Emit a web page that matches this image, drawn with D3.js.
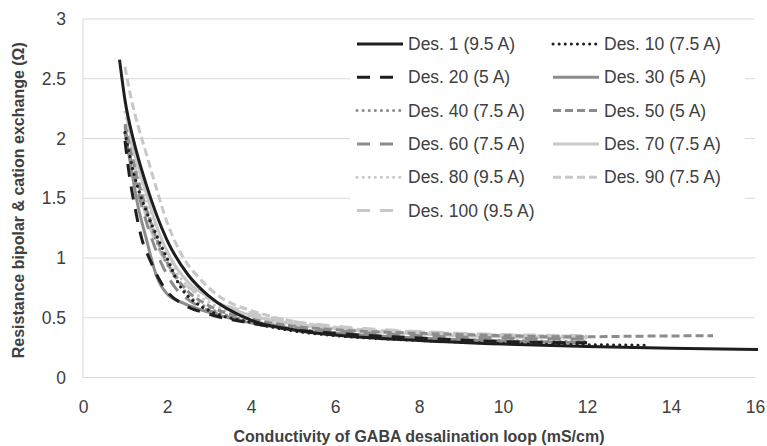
<!DOCTYPE html>
<html>
<head>
<meta charset="utf-8">
<script src="https://cdn.jsdelivr.net/npm/d3@7"></script>
<style>
  html, body { margin: 0; padding: 0; background: #fff; }
  svg { display: block; }
  text { font-family: "Liberation Sans", Arial, sans-serif; fill: #404040; }
</style>
</head>
<body>
<svg id="chart" width="767" height="446"></svg>
<script>
// ---- data ----
const seriesNames = ["Des. 1 (9.5 A)", "Des. 10 (7.5 A)", "Des. 20 (5 A)", "Des. 30 (5 A)",
  "Des. 40 (7.5 A)", "Des. 50 (5 A)", "Des. 60 (7.5 A)", "Des. 70 (7.5 A)",
  "Des. 80 (9.5 A)", "Des. 90 (7.5 A)", "Des. 100 (9.5 A)"];

const des1X  = [0.87, 1.0, 1.2, 1.5, 2.0, 2.5, 3.0, 4.0, 5.0, 6.0, 8.0, 10.0, 12.0, 14.0, 16.1];
const des1Y  = [2.66, 2.32, 1.99, 1.62, 1.15, 0.86, 0.68, 0.48, 0.40, 0.355, 0.31, 0.28, 0.26, 0.245, 0.235];
const des10X = [1.0, 1.2, 1.5, 1.8, 2.0, 2.3, 2.7, 3.0, 4.0, 5.0, 6.0, 8.0, 10.0, 12.0, 13.5];
const des10Y = [2.05, 1.72, 1.40, 1.15, 1.00, 0.77, 0.62, 0.56, 0.46, 0.39, 0.35, 0.31, 0.285, 0.275, 0.27];
const des20X = [1.0, 1.1, 1.25, 1.4, 1.6, 1.8, 2.0, 2.4, 3.0, 4.0, 5.0, 6.0, 8.0, 10.0, 12.0];
const des20Y = [1.98, 1.70, 1.40, 1.16, 0.98, 0.83, 0.72, 0.61, 0.53, 0.455, 0.40, 0.37, 0.33, 0.30, 0.29];
const des30X = [1.0, 1.15, 1.3, 1.5, 1.75, 2.0, 2.4, 3.0, 3.7, 4.4, 5.0, 6.0, 8.0, 10.0, 12.0];
const des30Y = [2.05, 1.75, 1.45, 1.17, 0.85, 0.70, 0.62, 0.545, 0.48, 0.43, 0.40, 0.37, 0.33, 0.305, 0.29];
const des40X = [1.05, 1.2, 1.5, 1.8, 2.0, 2.3, 2.6, 3.0, 4.0, 5.0, 6.0, 8.0, 10.0, 12.0];
const des40Y = [1.95, 1.72, 1.38, 1.10, 0.95, 0.78, 0.66, 0.58, 0.47, 0.41, 0.375, 0.33, 0.31, 0.30];
const des50X = [1.0, 1.2, 1.5, 1.8, 2.1, 2.5, 3.0, 4.0, 5.0, 6.0, 8.0, 10.0, 11.7, 13.0, 15.0];
const des50Y = [2.12, 1.80, 1.42, 1.12, 0.90, 0.72, 0.60, 0.49, 0.43, 0.40, 0.37, 0.35, 0.34, 0.345, 0.35];
const des60X = [1.0, 1.15, 1.35, 1.6, 1.9, 2.2, 2.6, 3.0, 4.0, 5.0, 6.0, 8.0, 10.0, 12.0];
const des60Y = [2.10, 1.80, 1.50, 1.20, 0.93, 0.75, 0.63, 0.56, 0.47, 0.42, 0.39, 0.35, 0.33, 0.32];
const des70X = [1.05, 1.2, 1.5, 1.8, 2.1, 2.5, 3.0, 3.5, 4.0, 5.0, 6.0, 8.0, 10.0, 12.0];
const des70Y = [2.18, 1.92, 1.55, 1.22, 0.99, 0.80, 0.67, 0.58, 0.52, 0.45, 0.41, 0.365, 0.34, 0.33];
const des80X = [1.0, 1.2, 1.5, 1.8, 2.1, 2.5, 3.0, 4.0, 5.0, 6.0, 8.0, 10.0, 12.0];
const des80Y = [2.22, 1.90, 1.50, 1.18, 0.95, 0.76, 0.63, 0.51, 0.44, 0.41, 0.37, 0.35, 0.34];
const des90X = [1.0, 1.15, 1.3, 1.5, 1.75, 2.0, 2.2, 2.45, 2.8, 3.2, 3.6, 4.0, 5.0, 6.0, 8.0, 10.0, 12.0];
const des90Y = [2.60, 2.33, 2.12, 1.88, 1.58, 1.30, 1.13, 0.97, 0.82, 0.69, 0.61, 0.56, 0.47, 0.42, 0.38, 0.355, 0.345];
const des100X = [1.05, 1.2, 1.35, 1.55, 1.8, 2.1, 2.5, 3.0, 3.5, 4.0, 5.0, 6.0, 8.0, 10.0, 12.0];
const des100Y = [2.20, 1.85, 1.55, 1.30, 1.08, 0.90, 0.76, 0.66, 0.59, 0.54, 0.47, 0.43, 0.385, 0.36, 0.35];

const xTicks = [0, 2, 4, 6, 8, 10, 12, 14, 16];
const yTicks = [0, 0.5, 1, 1.5, 2, 2.5, 3];
const xTitle = "Conductivity of GABA desalination loop (mS/cm)";
const yTitle = "Resistance bipolar & cation exchange (Ω)";

// ---- styles ----
const BLACK = "#1e1e1e", MID = "#8c8c8c", LIGHT = "#c8c8c8";
const styles = [
  {c: BLACK, d: null},
  {c: BLACK, d: "0.1,6", cap: "round"},
  {c: BLACK, d: "13,10"},
  {c: MID, d: null},
  {c: MID, d: "0.1,6", cap: "round"},
  {c: MID, d: "8,4"},
  {c: MID, d: "13,10"},
  {c: LIGHT, d: null},
  {c: LIGHT, d: "0.1,6", cap: "round"},
  {c: LIGHT, d: "8,4"},
  {c: LIGHT, d: "13,10"}
];

const xs = [des1X, des10X, des20X, des30X, des40X, des50X, des60X, des70X, des80X, des90X, des100X];
const ys = [des1Y, des10Y, des20Y, des30Y, des40Y, des50Y, des60Y, des70Y, des80Y, des90Y, des100Y];
const series = seriesNames.map((n, i) => ({
  name: n, style: styles[i],
  pts: xs[i].map((x, j) => ({x, y: ys[i][j]}))
}));

// ---- layout ----
const svg = d3.select("#chart");
const L = 83, R = 755, T = 19, B = 377.5;
const x = d3.scaleLinear().domain([0, 16]).range([L, R]);
const y = d3.scaleLinear().domain([0, 3]).range([B, T]);

svg.append("rect").attr("width", 767).attr("height", 446).attr("fill", "#fff");

// gridlines
svg.append("g").selectAll("line").data(yTicks.filter(v => v > 0)).join("line")
  .attr("x1", L).attr("x2", R)
  .attr("y1", d => y(d)).attr("y2", d => y(d))
  .attr("stroke", "#d9d9d9").attr("stroke-width", 1);

// axes lines
svg.append("line").attr("x1", L).attr("x2", R).attr("y1", y(0)).attr("y2", y(0))
  .attr("stroke", "#d9d9d9").attr("stroke-width", 1);
svg.append("line").attr("x1", x(0)).attr("x2", x(0)).attr("y1", y(0)).attr("y2", y(3))
  .attr("stroke", "#d9d9d9").attr("stroke-width", 1);

// axis tick labels via d3 axes
const xAxis = svg.append("g").attr("transform", `translate(0,${y(0)})`)
  .call(d3.axisBottom(x).tickValues(xTicks).tickSize(0).tickPadding(23).tickFormat(d3.format("d")));
xAxis.select(".domain").remove();
xAxis.selectAll("text").style("font-size", "17.5px").attr("fill", "#404040")
  .style("font-family", '"Liberation Sans", Arial, sans-serif');

const yAxis = svg.append("g").attr("transform", `translate(${x(0)},0)`)
  .call(d3.axisLeft(y).tickValues(yTicks).tickSize(0).tickPadding(17).tickFormat(d => String(d)));
yAxis.select(".domain").remove();
yAxis.selectAll("text").style("font-size", "17.5px").attr("fill", "#404040")
  .style("font-family", '"Liberation Sans", Arial, sans-serif');

// axis titles
svg.append("text").attr("x", (L + R) / 2).attr("y", 442)
  .attr("text-anchor", "middle").style("font-size", "16px").style("font-weight", "bold")
  .text(xTitle);
svg.append("text").attr("transform", `translate(24,${(T + B) / 2 + 2}) rotate(-90)`)
  .attr("text-anchor", "middle").style("font-size", "16px").style("font-weight", "bold")
  .text(yTitle);

// lines
const clip = svg.append("clipPath").attr("id", "plotclip").append("rect")
  .attr("x", L).attr("y", T - 5).attr("width", R - L + 3).attr("height", B - T + 5);
const line = d3.line().x(d => x(d.x)).y(d => y(d.y)).curve(d3.curveMonotoneX);
const gLines = svg.append("g").attr("clip-path", "url(#plotclip)");
// draw in reverse so Des. 1 is on top
series.slice().reverse().forEach(s => {
  gLines.append("path").datum(s.pts)
    .attr("d", line)
    .attr("fill", "none")
    .attr("stroke", s.style.c)
    .attr("stroke-width", 3)
    .attr("stroke-linecap", s.style.cap || "butt")
    .attr("stroke-linejoin", "round")
    .attr("stroke-dasharray", s.style.d);
});

// legend
const lg = svg.append("g");
lg.append("rect").attr("x", 350).attr("y", 28).attr("width", 395).attr("height", 226).attr("fill", "#fff");
const rowY0 = 44, rowH = 33.3;
const colX = [357, 553];
series.forEach((s, i) => {
  const col = i % 2, row = Math.floor(i / 2);
  const cy = rowY0 + row * rowH;
  const sx = colX[col];
  lg.append("line").attr("x1", sx).attr("x2", sx + 46).attr("y1", cy).attr("y2", cy)
    .attr("stroke", s.style.c).attr("stroke-width", 3)
    .attr("stroke-linecap", s.style.cap || "butt")
    .attr("stroke-dasharray", s.style.d);
  lg.append("text").attr("x", sx + 51).attr("y", cy).attr("dy", "0.35em")
    .style("font-size", "17.5px").attr("fill", "#262626").text(s.name);
});
</script>
</body>
</html>
